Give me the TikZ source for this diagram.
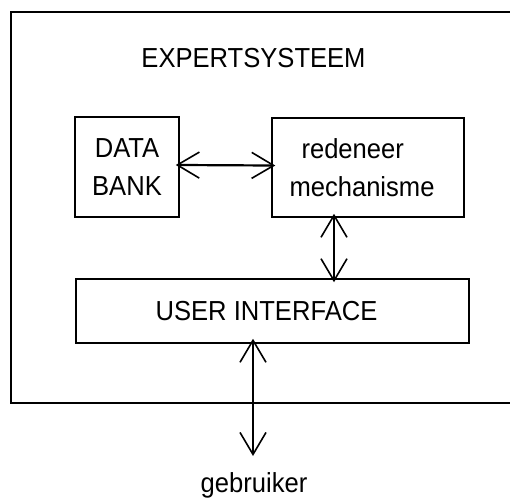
\documentclass[tikz,border=0pt]{standalone}
\usepackage{fontspec}
\setmainfont[FakeStretch=0.93]{Liberation Sans}
\usetikzlibrary{arrows.meta}
\begin{document}
\begin{tikzpicture}[x=1pt,y=-1pt,
  box/.style={draw, line width=1.5pt, inner sep=0pt},
  lbl/.style={font=\fontsize{27.5}{37.5}\selectfont, inner sep=0pt},
  barb/.tip={Straight Barb[length=22pt,width=26pt,line width=1.6pt]},
  dbl/.style={line width=2.2pt, barb-barb}
]
\useasboundingbox (0,0) rectangle (510,497);
% outer frame (its right side lies beyond the picture)
\draw[line width=2pt] (512,12) -- (11,12) -- (11,403) -- (512,403);

\node[lbl] (title) at (253.5,58.5) {EXPERTSYSTEEM};
\node[box, lbl, minimum width=104pt, minimum height=100pt, align=center] (db) at (127,167) {DATA\\BANK};
\node[box, lbl, minimum width=192pt, minimum height=99pt, align=left] (mech) at (368,167.5) {\hspace*{12pt}redeneer\\mechanisme\hspace*{12pt}};
\node[box, lbl, minimum width=393pt, minimum height=64pt] (ui) at (272.5,311) {USER INTERFACE\hspace*{12pt}};
\node[lbl] (user) at (254,485) {gebruiker};
\coordinate (userend) at (253,456);

\draw[dbl, shorten <=-4pt, shorten >=-4pt] ([yshift=2pt]db.east) -- ([yshift=2pt]mech.west);
\draw[dbl, shorten <=-4pt, shorten >=-4pt] (334,0 |- mech.south) -- (334,0 |- ui.north);
\draw[dbl, shorten <=-5pt] (253,0 |- ui.south) -- (userend);
\end{tikzpicture}
\end{document}
